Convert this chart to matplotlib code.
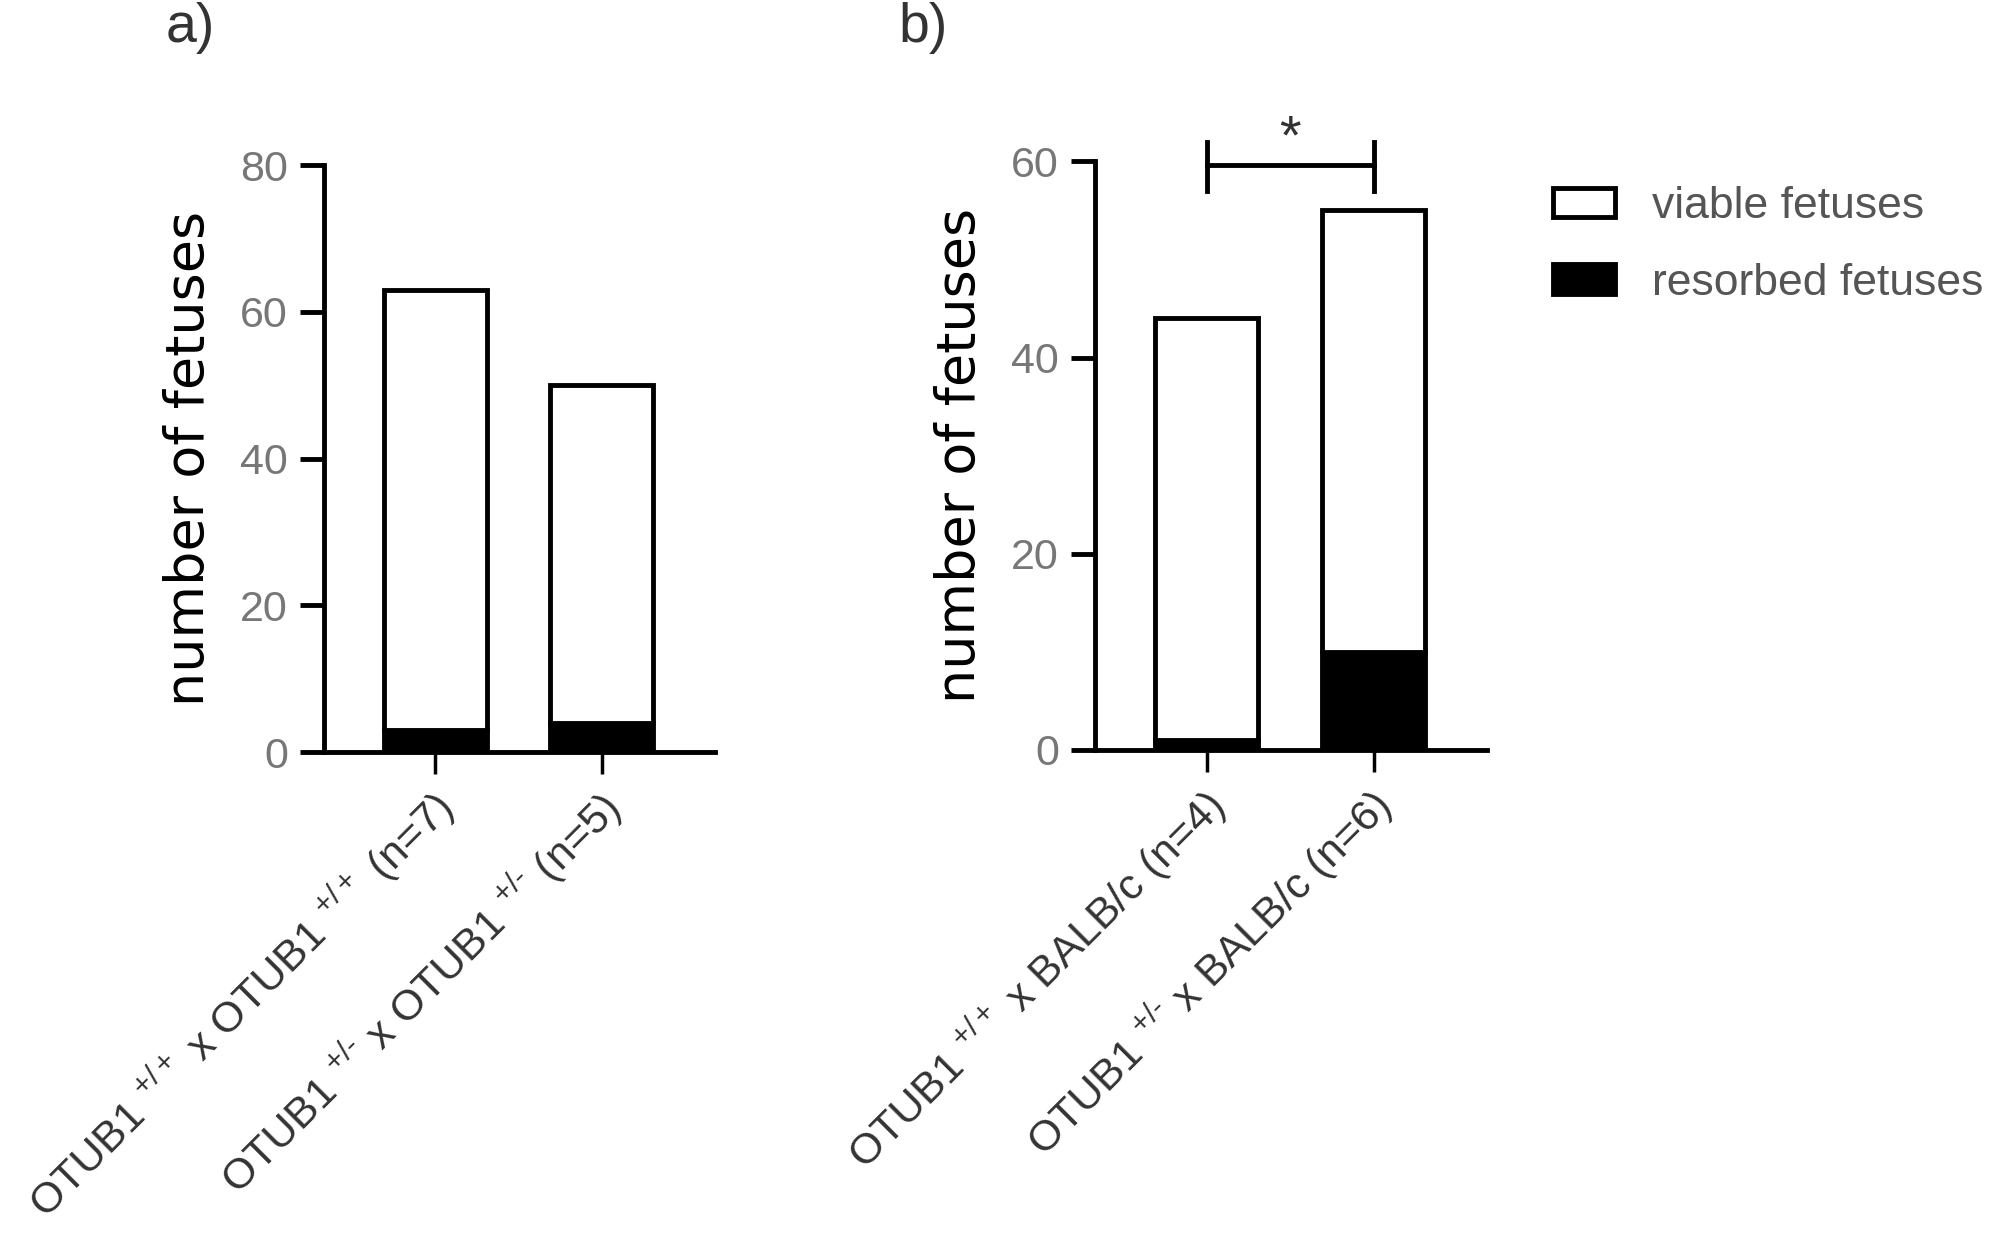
import matplotlib
matplotlib.use("Agg")
import matplotlib.pyplot as plt
from matplotlib.patches import Patch
from matplotlib.transforms import ScaledTranslation

plt.rcParams['font.family'] = ['Liberation Sans', 'DejaVu Sans']
plt.rcParams['mathtext.fontset'] = 'custom'
plt.rcParams['mathtext.rm'] = 'Liberation Sans'
plt.rcParams['mathtext.it'] = 'Liberation Sans:italic'
plt.rcParams['mathtext.bf'] = 'Liberation Sans:bold'

# dados
labels_a = [r'OTUB1 $^{+/+}$ x OTUB1 $^{+/+}$ (n=7)',
            r'OTUB1 $^{+/\text{-}}$ x OTUB1 $^{+/\text{-}}$ (n=5)']
viable_a = [60, 46]
resorbed_a = [3, 4]

labels_b = [r'OTUB1 $^{+/+}$ x BALB/c (n=4)', r'OTUB1 $^{+/\text{-}}$ x BALB/c (n=6)']
viable_b = [43, 45]
resorbed_b = [1, 10]

ylabel = 'number of fetuses'
legend_labels = ['viable fetuses', 'resorbed fetuses']

LW = 3.5
W = 0.62

fig = plt.figure(figsize=(20.08, 12.4), dpi=100)
ax_a = fig.add_axes([324/2008, 0.3935, (715-324)/2008, 0.4734])
ax_b = fig.add_axes([1095/2008, 0.3952, (1487-1095)/2008, 0.4746])


def painel(ax, labels, viable, resorbed, ymax):
    x = list(range(len(labels)))
    ax.bar(x, resorbed, width=W, color='black', edgecolor='black', linewidth=LW)
    ax.bar(x, viable, bottom=resorbed, width=W, facecolor='white', edgecolor='black', linewidth=LW)
    ax.set_xlim(-0.67, 1.68)
    ax.set_ylim(0, ymax)
    ax.set_yticks(range(0, ymax + 1, 20))
    ax.spines['top'].set_visible(False)
    ax.spines['right'].set_visible(False)
    ax.spines['left'].set_linewidth(LW)
    ax.spines['bottom'].set_linewidth(LW)
    ax.tick_params(axis='y', length=17, width=LW, pad=9, labelsize=31, labelcolor='#777777')
    ax.tick_params(axis='x', length=16, width=2.5, pad=6)
    ax.set_xticks(x)
    ax.set_xticklabels(labels, rotation=45, ha='right', va='top', rotation_mode='anchor',
                       fontsize=31, color='#333333')
    for t in ax.get_xticklabels():
        t.set_transform(t.get_transform() + ScaledTranslation(-8/100, 0, fig.dpi_scale_trans))
    ax.set_ylabel(ylabel, fontsize=39, family='DejaVu Sans', labelpad=18)


painel(ax_a, labels_a, viable_a, resorbed_a, 80)
painel(ax_b, labels_b, viable_b, resorbed_b, 60)

# barra de significancia
ax_b.plot([0, 0], [57, 62], color='black', lw=LW, clip_on=False)
ax_b.plot([1, 1], [57, 62], color='black', lw=LW, clip_on=False)
ax_b.plot([0, 1], [59.6, 59.6], color='black', lw=LW, clip_on=False)
ax_b.text(0.5, 59.6, '*', ha='center', va='bottom', fontsize=40, color='#333333')

# legenda
handles = [Patch(facecolor='white', edgecolor='black', linewidth=LW),
           Patch(facecolor='black', edgecolor='black', linewidth=LW)]
fig.legend(handles, legend_labels, loc='upper left', bbox_to_anchor=(1553/2008, 1 - 186/1240),
           frameon=False, fontsize=32, handlelength=1.39, handleheight=0.64,
           handletextpad=0.84, labelspacing=0.8, borderpad=0, borderaxespad=0,
           labelcolor='#555555')

fig.text(166/2008, 1 - 2/1240, 'a)', fontsize=40, va='top', color='#333333')
fig.text(898/2008, 1 - 2/1240, 'b)', fontsize=40, va='top', color='#333333')

fig.savefig('out.png', dpi=100)
